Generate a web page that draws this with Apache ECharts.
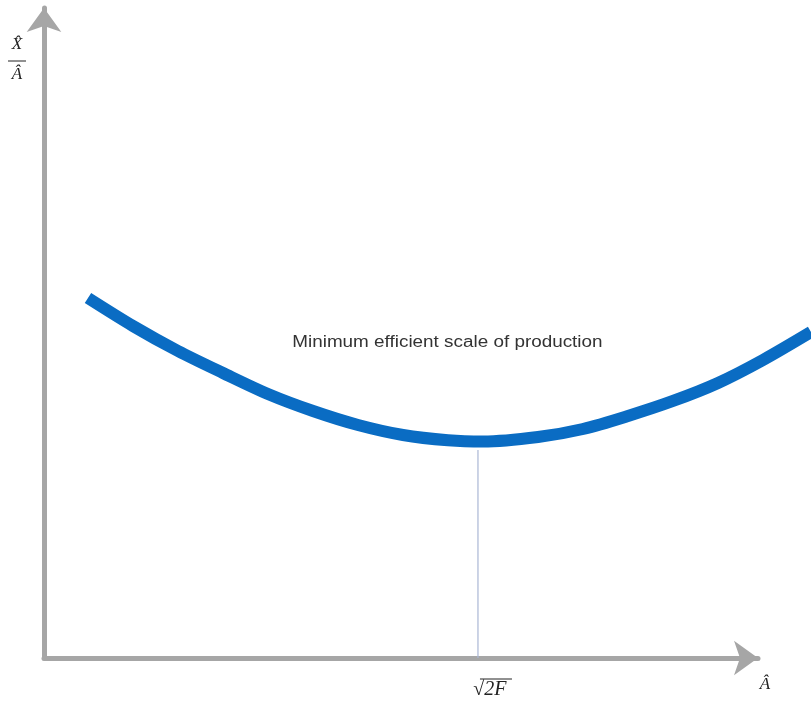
<!DOCTYPE html>
<html>
<head>
<meta charset="utf-8">
<script src="https://cdn.jsdelivr.net/npm/echarts@6/dist/echarts.min.js"></script>
<style>html,body{margin:0;padding:0;background:#fff}#c{width:811px;height:704px}</style>
</head>
<body>
<div id="c"></div>
<script>
// Curve: average cost (X/A) against output A
const curveX = [6.16, 12.46, 18.77, 25.07, 31.37, 37.68, 43.98, 50.28, 56.58, 61.5, 69.19, 75.49, 81.79, 88.10, 94.40, 100.70, 107.42];
const curveY = [55.38, 51.08, 47.23, 43.85, 40.62, 38.0, 35.85, 34.31, 33.5, 33.3, 34.0, 35.23, 37.23, 39.54, 42.31, 45.85, 50.15];
const minX = 60.78;          // sqrt(2F)
const dropTopY = 32.0;       // top of the vertical guide
const curveLabel = 'Minimum efficient scale of production';
const xTickLabel = '√2F';
const xName = 'Â';
const yNameTop = 'X̂';
const yNameBottom = 'Â';

const W = 811, LEFT = 44, RIGHT = 53, TOP = 8, BOTTOM = 46;
const axisW = W - LEFT - RIGHT;
const xMax = 100, yMax = 100;
const xMaxWide = xMax * (W - LEFT) / axisW;   // same scale, grid reaching the right edge

const chart = echarts.init(document.getElementById('c'), null, {renderer: 'canvas'});
const axisGrey = '#a6a6a6';
const hiddenAxis = {splitLine: {show: false}, axisTick: {show: false}, axisLine: {show: false}, axisLabel: {show: false}};
const option = {
  animation: false,
  grid: [
    {left: LEFT, right: RIGHT, top: TOP, bottom: BOTTOM},
    {left: LEFT, right: 0, top: TOP, bottom: BOTTOM}
  ],
  xAxis: [
    {
      type: 'value', min: 0, max: xMax, gridIndex: 0,
      splitLine: {show: false}, axisTick: {show: false},
      axisLine: {onZero: false, lineStyle: {color: axisGrey, width: 5}, symbol: ['none', 'arrow'], symbolSize: [26, 24]},
      axisLabel: {show: false}
    },
    Object.assign({type: 'value', min: 0, max: xMaxWide, gridIndex: 1}, hiddenAxis)
  ],
  yAxis: [
    {
      type: 'value', min: 0, max: yMax, gridIndex: 0,
      splitLine: {show: false}, axisTick: {show: false},
      axisLine: {show: true, onZero: false, lineStyle: {color: axisGrey, width: 5}, symbol: ['none', 'arrow'], symbolSize: [26, 24]},
      axisLabel: {show: false}
    },
    Object.assign({type: 'value', min: 0, max: yMax, gridIndex: 1}, hiddenAxis)
  ],
  series: [
    {
      type: 'line', xAxisIndex: 0, yAxisIndex: 0, data: [[minX, 0], [minX, dropTopY]], symbol: 'none', silent: true,
      lineStyle: {color: '#aab6d4', width: 1.2}, z: 1
    },
    {
      type: 'line', xAxisIndex: 1, yAxisIndex: 1, smooth: 0.3, symbol: 'none',
      data: curveX.map((x, i) => [x, curveY[i]]),
      lineStyle: {color: '#0a6cc3', width: 12, cap: 'butt', join: 'round'}, z: 3
    }
  ]
};
chart.setOption(option);

const pMin = chart.convertToPixel({gridIndex: 0}, [minX, 0]);
const pEnd = chart.convertToPixel({gridIndex: 0}, [xMax, 0]);
const pTop = chart.convertToPixel({gridIndex: 0}, [0, yMax]);
const pLab = chart.convertToPixel({gridIndex: 0}, [56.5, 48.5]);
const serif = '"Liberation Serif", "DejaVu Serif", serif';
chart.setOption({
  graphic: [
    {type: 'text', x: pLab[0], y: pLab[1], scaleX: 1.18, style: {text: curveLabel, font: '16px "Liberation Sans", Arial, sans-serif', fill: '#333', align: 'center', verticalAlign: 'middle'}},
    {type: 'text', x: pMin[0] + 12, y: pMin[1] + 32, style: {text: xTickLabel, font: 'italic 20px ' + serif, fill: '#222', align: 'center', verticalAlign: 'middle'}},
    {type: 'line', shape: {x1: pMin[0] + 2, y1: pMin[1] + 21, x2: pMin[0] + 34, y2: pMin[1] + 21}, style: {stroke: '#222', lineWidth: 1}},
    {type: 'text', x: pEnd[0] + 7, y: pEnd[1] + 27, style: {text: xName, font: 'italic 17px ' + serif, fill: '#222', align: 'center', verticalAlign: 'middle'}},
    {type: 'text', x: 17, y: pTop[1] + 37, style: {text: yNameTop, font: 'italic 17px ' + serif, fill: '#222', align: 'center', verticalAlign: 'middle'}},
    {type: 'line', shape: {x1: 8, y1: pTop[1] + 53, x2: 26, y2: pTop[1] + 53}, style: {stroke: '#222', lineWidth: 1}},
    {type: 'text', x: 17, y: pTop[1] + 67, style: {text: yNameBottom, font: 'italic 17px ' + serif, fill: '#222', align: 'center', verticalAlign: 'middle'}}
  ]
});
</script>
</body>
</html>
